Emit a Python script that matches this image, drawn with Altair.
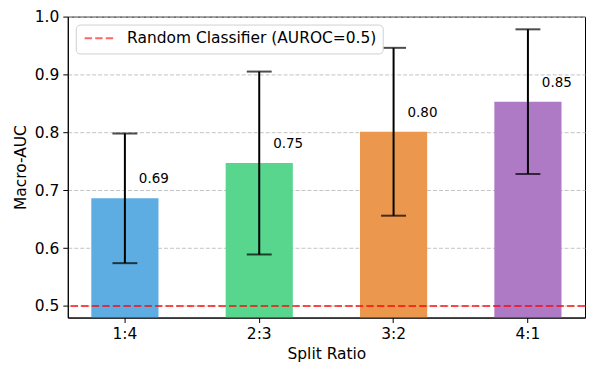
import altair as alt
import pandas as pd

ratios = ["1:4", "2:3", "3:2", "4:1"]
auc_means = [0.686, 0.747, 0.801, 0.853]
auc_stds = [0.112, 0.158, 0.145, 0.125]
bar_colors = ["#5DADE2", "#58D68D", "#EB984E", "#AF7AC5"]
baseline_value = 0.5
baseline_label = "Random Classifier (AUROC=0.5)"
y_ticks = [0.5, 0.6, 0.7, 0.8, 0.9, 1.0]

df = pd.DataFrame({
    "ratio": ratios,
    "auc": auc_means,
    "std": auc_stds,
    "color": bar_colors,
})
df["lo"] = df["auc"] - df["std"]
df["hi"] = df["auc"] + df["std"]
df["label"] = df["auc"].map(lambda v: f"{v:.2f}")

base_df = pd.DataFrame({"y": [baseline_value], "name": [baseline_label]})

FONT = "DejaVu Sans"
AX_FS = 15.5

x_enc = alt.X(
    "ratio:N",
    sort=ratios,
    title="Split Ratio",
    scale=alt.Scale(paddingInner=0.5, paddingOuter=0.175),
    axis=alt.Axis(labelAngle=0, grid=False, tickSize=5, labelPadding=4, titlePadding=5),
)
y_scale = alt.Scale(domain=[0.48, 1.0], nice=False, zero=False)
y_axis = alt.Axis(values=y_ticks, format=".1f", tickSize=5, labelPadding=4, titlePadding=6,
                  grid=True, gridDash=[4, 2], gridColor="#c4c4c4", gridWidth=1)

bars = alt.Chart(df).mark_bar(clip=True).encode(
    x=x_enc,
    y=alt.Y("auc:Q", scale=y_scale, axis=y_axis, title="Macro-AUC"),
    y2=alt.datum(0.48),
    color=alt.Color("color:N", scale=None),
)

err = alt.Chart(df).mark_rule(color="black", strokeWidth=2).encode(
    x=alt.X("ratio:N", sort=ratios),
    y=alt.Y("lo:Q"),
    y2="hi:Q",
)
cap_lo = alt.Chart(df).mark_tick(color="black", thickness=2, size=25).encode(
    x=alt.X("ratio:N", sort=ratios),
    y=alt.Y("lo:Q"),
)
cap_hi = alt.Chart(df).mark_tick(color="black", thickness=2, size=25).encode(
    x=alt.X("ratio:N", sort=ratios),
    y=alt.Y("hi:Q"),
)

labels = alt.Chart(df).mark_text(
    align="left", baseline="alphabetic", dx=14, dy=-15, fontSize=13.5, font=FONT, color="black"
).encode(
    x=alt.X("ratio:N", sort=ratios),
    y=alt.Y("auc:Q"),
    text="label:N",
)

base_rule = alt.Chart(base_df).mark_rule(strokeWidth=2.2, strokeDash=[7.4, 3.2], opacity=0.7).encode(
    y=alt.Y("y:Q"),
    color=alt.Color(
        "name:N",
        scale=alt.Scale(domain=[baseline_label], range=["red"]),
        legend=alt.Legend(
            title=None,
            orient="top-left",
            offset=8,
            symbolType="M-1,0H5",
            symbolStrokeWidth=2,
            symbolDash=[7.4, 3.2],
            symbolOpacity=0.6,
            symbolSize=93,
            labelFontSize=AX_FS,
            labelFont=FONT,
            labelColor="black",
            labelOffset=30,
            labelLimit=0,
            strokeColor="#d0d0d0",
            fillColor="white",
            cornerRadius=4,
            padding=6,
        ),
    ),
)

chart = alt.layer(bars, err, cap_lo, cap_hi, labels, base_rule).properties(
    width=519,
    height=302,
    autosize=alt.AutoSizeParams(type="none"),
    padding={"left": 60, "top": 8, "right": 5, "bottom": 52},
).configure_view(
    stroke="black", strokeWidth=1
).configure_axis(
    domainColor="black",
    tickColor="black",
    labelColor="black",
    titleColor="black",
    labelFont=FONT,
    titleFont=FONT,
    labelFontSize=AX_FS,
    titleFontSize=AX_FS,
    titleFontWeight="normal",
)

chart.save("out.html", embed_options={"renderer": "svg", "actions": False})
